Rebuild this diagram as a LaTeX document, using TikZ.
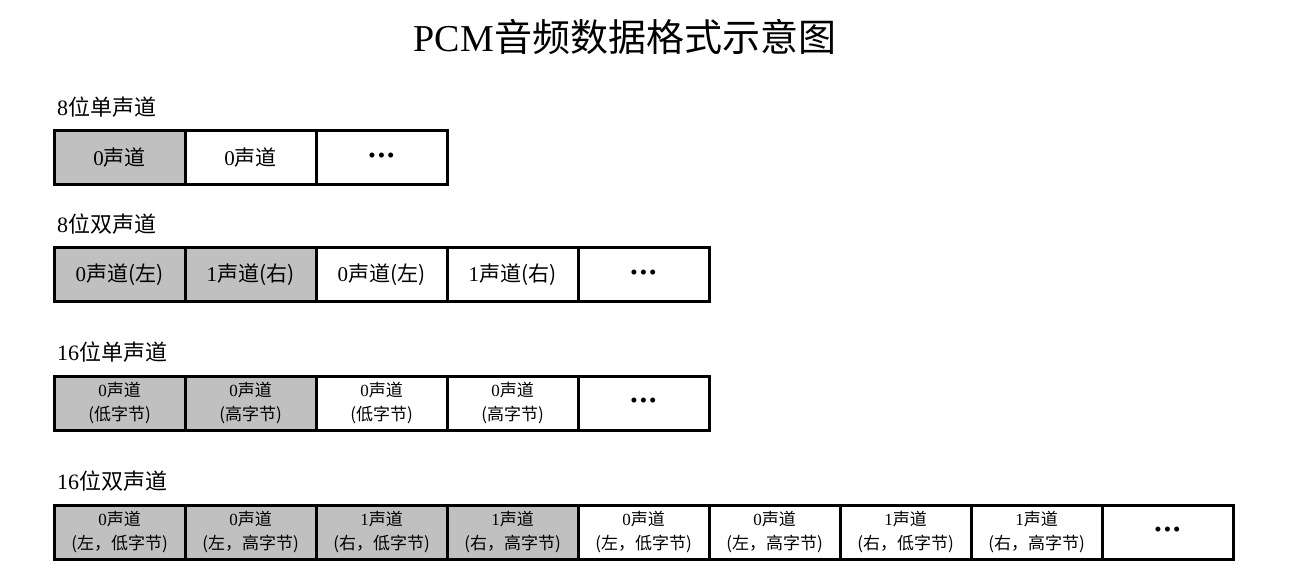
\documentclass[tikz,border=0pt]{standalone}
\usepackage{fontspec}
\setmainfont{Liberation Serif}
\newfontfamily\zh{Noto Sans CJK SC}
\usepackage{tikz}
\usetikzlibrary{positioning}
\definecolor{pcmgray}{RGB}{192,192,192}
\newcommand{\pcmdots}{\textbullet\kern2pt\textbullet\kern2pt\textbullet}

\begin{document}
\begin{tikzpicture}[x=1pt, y=-1pt,
  cell/.style={draw, line width=3pt, outer sep=0pt, inner sep=0pt,
    minimum width=131pt, minimum height=54pt, align=center,
    font=\fontsize{21}{25}\selectfont},
  small/.style={font=\fontsize{17}{24}\selectfont},
  gray/.style={fill=pcmgray},
  rowlab/.style={inner sep=0pt, font=\fontsize{22}{26}\selectfont},
  title/.style={inner sep=0pt, font=\fontsize{38}{44}\selectfont}]
\useasboundingbox (0,0) rectangle (1302,588);
\node[title] (head) at (625,37) {PCM\zh 音频数据格式示意图};

% 8 bit, mono
\node[cell, gray] (r1a) at (119.5,158) {0\zh 声道};
\node[cell, right=0pt of r1a] (r1b) {0\zh 声道};
\node[cell, right=0pt of r1b] (r1c) {\pcmdots};
\node[rowlab, above=13pt of r1a.north west, anchor=south west, xshift=3pt]
  (lab1) {8\zh 位单声道};

% 8 bit, stereo
\node[cell, gray] (r2a) at (119.5,275) {0\zh 声道(左)};
\node[cell, gray, right=0pt of r2a] (r2b) {1\zh 声道(右)};
\node[cell, right=0pt of r2b] (r2c) {0\zh 声道(左)};
\node[cell, right=0pt of r2c] (r2d) {1\zh 声道(右)};
\node[cell, right=0pt of r2d] (r2e) {\pcmdots};
\node[rowlab, above=13pt of r2a.north west, anchor=south west, xshift=3pt]
  (lab2) {8\zh 位双声道};

% 16 bit, mono
\node[cell, small, gray] (r3a) at (119.5,403) {0\zh 声道\\\zh(低字节)};
\node[cell, small, gray, right=0pt of r3a] (r3b) {0\zh 声道\\\zh(高字节)};
\node[cell, small, right=0pt of r3b] (r3c) {0\zh 声道\\\zh(低字节)};
\node[cell, small, right=0pt of r3c] (r3d) {0\zh 声道\\\zh(高字节)};
\node[cell, right=0pt of r3d] (r3e) {\pcmdots};
\node[rowlab, above=13pt of r3a.north west, anchor=south west, xshift=3pt]
  (lab3) {16\zh 位单声道};

% 16 bit, stereo
\node[cell, small, gray] (r4a) at (119.5,532) {0\zh 声道\\\zh(左，低字节)};
\node[cell, small, gray, right=0pt of r4a] (r4b) {0\zh 声道\\\zh(左，高字节)};
\node[cell, small, gray, right=0pt of r4b] (r4c) {1\zh 声道\\\zh(右，低字节)};
\node[cell, small, gray, right=0pt of r4c] (r4d) {1\zh 声道\\\zh(右，高字节)};
\node[cell, small, right=0pt of r4d] (r4e) {0\zh 声道\\\zh(左，低字节)};
\node[cell, small, right=0pt of r4e] (r4f) {0\zh 声道\\\zh(左，高字节)};
\node[cell, small, right=0pt of r4f] (r4g) {1\zh 声道\\\zh(右，低字节)};
\node[cell, small, right=0pt of r4g] (r4h) {1\zh 声道\\\zh(右，高字节)};
\node[cell, right=0pt of r4h] (r4i) {\pcmdots};
\node[rowlab, above=13pt of r4a.north west, anchor=south west, xshift=3pt]
  (lab4) {16\zh 位双声道};
\end{tikzpicture}
\end{document}
